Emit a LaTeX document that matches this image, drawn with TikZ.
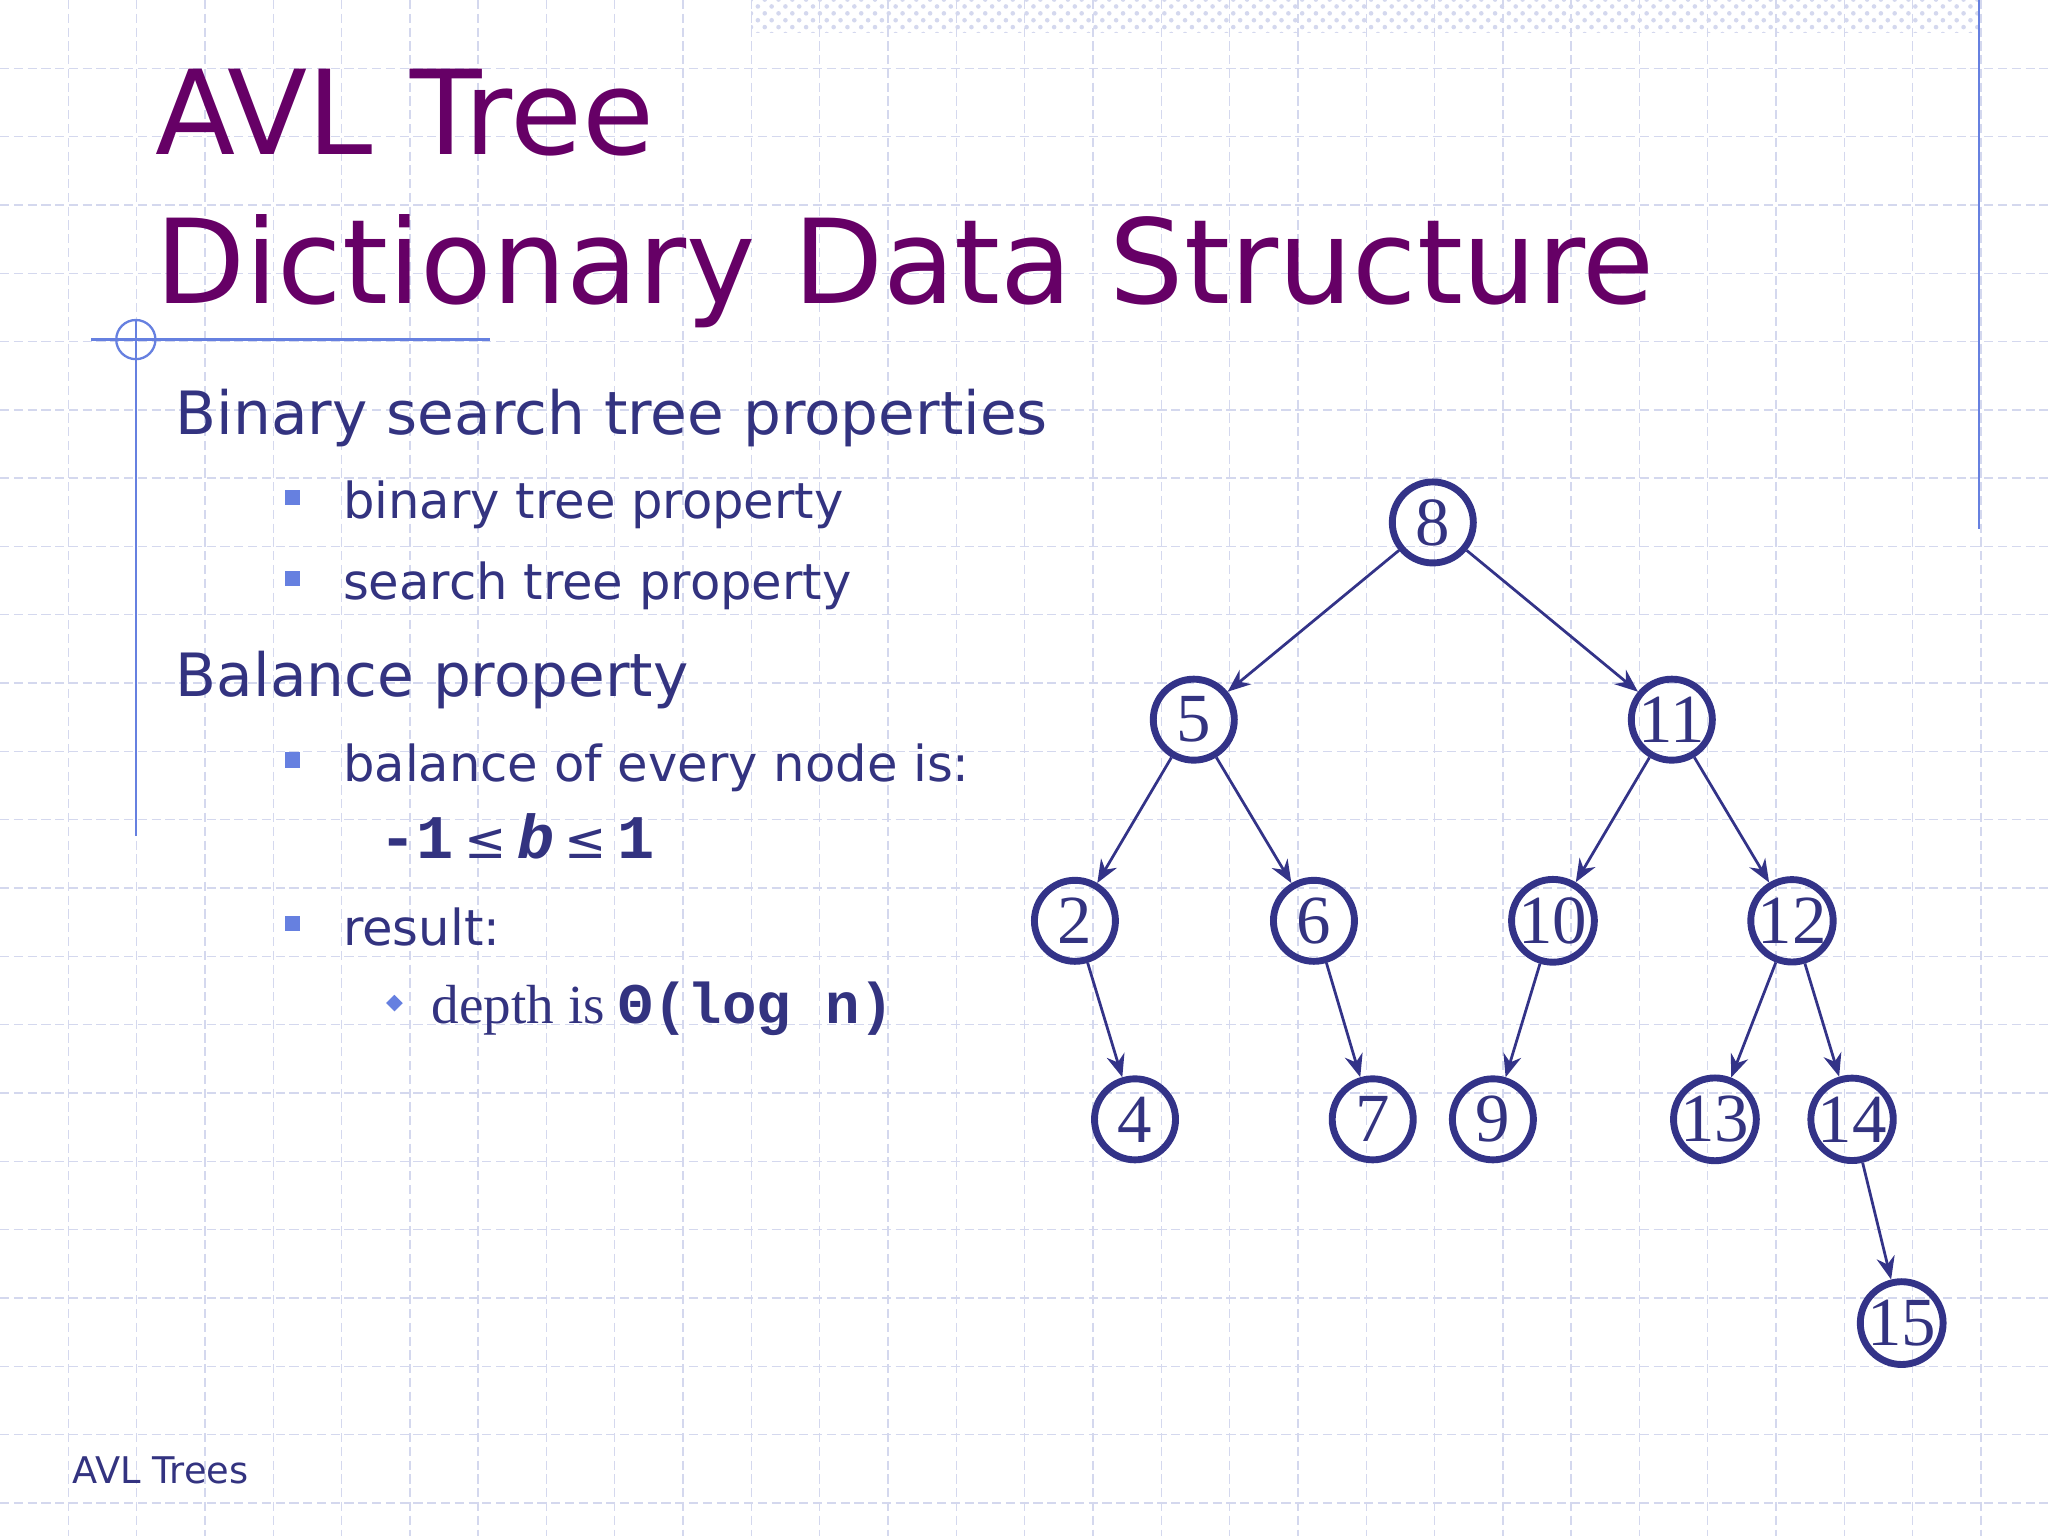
\documentclass[tikz,border=0pt]{standalone}
\usepackage{fontspec}
\setmainfont{DejaVu Sans}
\newfontfamily\tms{Liberation Serif}
\newfontfamily\mono{Liberation Mono}
\newfontfamily\djv{DejaVu Sans}
\usetikzlibrary{patterns,arrows.meta}
\definecolor{ttl}{HTML}{660066}
\definecolor{bdy}{HTML}{333380}
\definecolor{bul}{HTML}{6680E0}
\definecolor{grd}{HTML}{D4D8EE}
\definecolor{nd}{HTML}{333388}
\tikzset{x=0.01cm,y=-0.01cm,
 tn/.style={circle,draw=nd,line width=1.5pt,minimum size=0.62cm,inner sep=0pt,font=\tms\fontsize{15}{15}\selectfont,text=bdy},
 ed/.style={draw=nd,line width=0.6pt,-{Stealth[length=5pt,width=4pt]}},
 sq/.style={fill=bul,minimum size=0.12cm,inner sep=0pt}}
\begin{document}
\begin{tikzpicture}
\useasboundingbox (0,0) rectangle (1568,1176);
\fill[white] (0,0) rectangle (1568,1176);
\foreach \i in {1,...,30} \draw[grd,dash pattern=on 2pt off 1pt,line width=0.3pt] (\i*52.3,0) -- (\i*52.3,1176);
\foreach \i in {1,...,22} \draw[grd,dash pattern=on 2pt off 1pt,line width=0.3pt] (0,\i*52.3) -- (1568,\i*52.3);
\fill[pattern=crosshatch dots,pattern color=grd] (575,0) rectangle (1515,25);
\draw[bul,line width=0.5pt] (1515,0) -- (1515,405);
\draw[bul,line width=0.5pt] (104,245) -- (104,640);
\draw[bul,line width=0.5pt] (70,260) -- (375,260);
\draw[bul,line width=0.5pt] (104,260) circle (15);
\node[anchor=base west,text=ttl,font=\fontsize{25.5}{25.5}\selectfont,inner sep=0pt] (t1) at (118,118) {AVL Tree};
\node[anchor=base west,text=ttl,font=\fontsize{25.5}{25.5}\selectfont,inner sep=0pt] (t2) at (118,232) {Dictionary Data Structure};
\tikzset{bt/.style={anchor=base west,text=bdy,inner sep=0pt}}
\node[bt,font=\fontsize{13}{13}\selectfont] (a) at (134,333) {Binary search tree properties};
\node[sq] at (224,381) {};
\node[bt,font=\fontsize{10.8}{10.8}\selectfont] (b) at (262,397) {binary tree property};
\node[sq] at (224,443) {};
\node[bt,font=\fontsize{10.8}{10.8}\selectfont] (c) at (262,459) {search tree property};
\node[bt,font=\fontsize{13}{13}\selectfont] (d) at (134,533) {Balance property};
\node[sq] at (224,582) {};
\node[bt,font=\fontsize{10.8}{10.8}\selectfont] (e) at (262,598) {balance of every node is:};
\node[bt,font=\fontsize{13.5}{13.5}\selectfont] (f) at (290,657) {\mono\bfseries -1\,{\djv\mdseries\fontsize{11}{11}\selectfont ≤}\,\textit{b}\,{\djv\mdseries\fontsize{11}{11}\selectfont ≤}\,1};
\node[sq] at (224,707) {};
\node[bt,font=\fontsize{10.8}{10.8}\selectfont] (g) at (262,724) {result:};
\node[fill=bul,minimum size=0.09cm,inner sep=0pt,rotate=45] at (302,768) {};
\node[bt] (h) at (330,784) {{\tms\fontsize{12}{12}\selectfont depth is }{\mono\bfseries\fontsize{12.5}{12.5}\selectfont Θ(log n)}};
\node[anchor=base west,text=bdy,inner sep=0pt,font=\fontsize{8}{8}\selectfont] (ft) at (55,1136) {AVL Trees};
\node[tn] (n8) at (1097,400) {8};
\node[tn] (n5) at (914,551) {5};
\node[tn] (n11) at (1280,551) {11};
\node[tn] (n2) at (823,705) {2};
\node[tn] (n6) at (1006,705) {6};
\node[tn] (n10) at (1189,705) {10};
\node[tn] (n12) at (1372,705) {12};
\node[tn] (n4) at (869,857) {4};
\node[tn] (n7) at (1051,857) {7};
\node[tn] (n9) at (1143,857) {9};
\node[tn] (n13) at (1313,857) {13};
\node[tn] (n14) at (1418,857) {14};
\node[tn] (n15) at (1456,1013) {15};
\foreach \a/\b in {n8/n5,n8/n11,n5/n2,n5/n6,n11/n10,n11/n12,n2/n4,n6/n7,n10/n9,n12/n13,n12/n14,n14/n15}
 \draw[ed] (\a) -- (\b);
\end{tikzpicture}
\end{document}
